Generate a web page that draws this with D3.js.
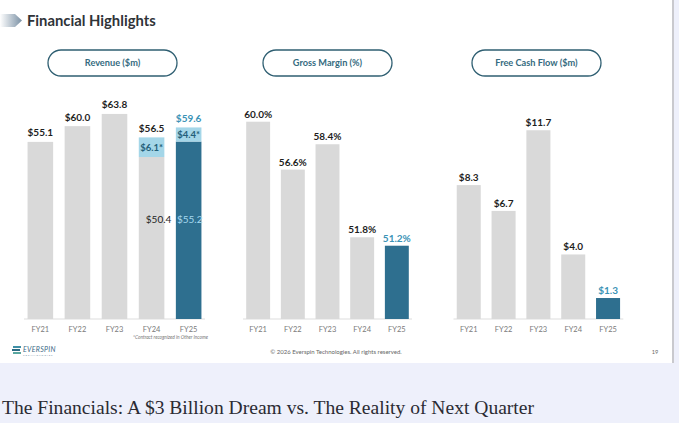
<!DOCTYPE html>
<html>
<head>
<meta charset="utf-8">
<script src="https://cdn.jsdelivr.net/npm/d3@7"></script>
<style>
  html, body { margin: 0; padding: 0; background: #eef0fb; }
  svg { display: block; }
</style>
</head>
<body>
<div class="chart"></div>
<script>
'use strict';

// chart data
var years = ['FY21', 'FY22', 'FY23', 'FY24', 'FY25'];
var panelTitles = ['Revenue ($m)', 'Gross Margin (%)', 'Free Cash Flow ($m)'];
var revenueTotal = [55.1, 60.0, 63.8, 56.5, 59.6];
var revenueCore = [55.1, 60.0, 63.8, 50.4, 55.2];
var revenueContract = [0, 0, 0, 6.1, 4.4];
var grossMargin = [60.0, 56.6, 58.4, 51.8, 51.2];
var freeCashFlow = [8.3, 6.7, 11.7, 4.0, 1.3];

var width = 679,
    height = 423,
    baseY = 319,
    gray = '#d9d9d9',
    dark = '#2e6f8f',
    light = '#a4d6e8',
    teal = '#3b93b6',
    labelFont = 'Lato, "Noto Sans", sans-serif';

var svg = d3.select('.chart').append('svg')
  .attr('width', width)
  .attr('height', height);

// page background + slide
svg.append('rect').attr('width', width).attr('height', height).attr('fill', '#eef0fb');
svg.append('rect').attr('width', 672).attr('height', 363).attr('fill', '#ffffff');
svg.append('rect').attr('x', 672).attr('width', 2).attr('height', 363).attr('fill', '#c9c9ce');

// title with arrow icon
var defs = svg.append('defs');
var grad = defs.append('linearGradient').attr('id', 'arrowGrad');
grad.append('stop').attr('offset', '0%').attr('stop-color', '#ffffff');
grad.append('stop').attr('offset', '100%').attr('stop-color', '#7a90a4');

svg.append('path')
  .attr('d', 'M0,14 L15,14 L22,20.5 L15,27 L0,27 Z')
  .attr('fill', 'url(#arrowGrad)');

svg.append('text')
  .attr('x', 27).attr('y', 26)
  .attr('font-family', labelFont)
  .attr('font-weight', 700)
  .attr('font-size', 14.8)
  .attr('fill', '#2f3338')
  .text('Financial Highlights');

// panel setup
var panels = [
  { range: [22, 207], y: d3.scaleLinear().domain([0, 70]).range([baseY, baseY - 225]), pill: 48 },
  { range: [241, 414], y: d3.scaleLinear().domain([46, 60]).range([baseY, 121.7]), pill: 263 },
  { range: [451.5, 625.3], y: d3.scaleLinear().domain([0, 12]).range([baseY, baseY - 193.6]), pill: 472 }
];

panels.forEach(function (p, i) {
  p.x = d3.scaleBand().domain(years).range(p.range).paddingInner(0.31).paddingOuter(0.15);

  // pill header
  svg.append('rect')
    .attr('x', p.pill).attr('y', 50)
    .attr('width', 129).attr('height', 26)
    .attr('rx', 13)
    .attr('fill', '#fff')
    .attr('stroke', '#2f5f72')
    .attr('stroke-width', 1.3);
  svg.append('text')
    .attr('x', p.pill + 64.5).attr('y', 66)
    .attr('text-anchor', 'middle')
    .attr('font-family', labelFont)
    .attr('font-weight', 700)
    .attr('font-size', 9.2)
    .attr('fill', '#356b80')
    .text(panelTitles[i]);

  // axis
  var axis = svg.append('g')
    .attr('transform', 'translate(0,' + baseY + ')')
    .call(d3.axisBottom(p.x).tickSize(0).tickPadding(7.5));
  axis.select('.domain').attr('stroke', '#d4d4d4').attr('stroke-width', 0.8)
    .attr('d', 'M' + (p.range[0] + 2) + ',0H' + (p.range[1] - 2));
  axis.selectAll('text')
    .attr('font-family', labelFont)
    .attr('font-size', 7.5)
    .attr('fill', '#7a7a7a');
});

function labelText(sel) {
  return sel.attr('text-anchor', 'middle')
    .attr('font-family', labelFont)
    .attr('font-weight', 700)
    .attr('font-size', 10);
}

// revenue
var rev = panels[0];
var revG = svg.append('g');
revG.selectAll('rect.core').data(revenueCore).enter().append('rect')
  .attr('class', 'core')
  .attr('x', function (d, i) { return rev.x(years[i]); })
  .attr('width', rev.x.bandwidth())
  .attr('y', function (d) { return rev.y(d); })
  .attr('height', function (d) { return baseY - rev.y(d); })
  .attr('fill', function (d, i) { return i === 4 ? dark : gray; });

revG.selectAll('rect.contract').data(revenueContract).enter().append('rect')
  .attr('class', 'contract')
  .attr('x', function (d, i) { return rev.x(years[i]); })
  .attr('width', rev.x.bandwidth())
  .attr('y', function (d, i) { return rev.y(revenueCore[i] + d); })
  .attr('height', function (d, i) { return rev.y(revenueCore[i]) - rev.y(revenueCore[i] + d); })
  .attr('fill', light);

revG.selectAll('text.total').data(revenueTotal).enter().append('text')
  .attr('class', 'total')
  .attr('x', function (d, i) { return rev.x(years[i]) + rev.x.bandwidth() / 2; })
  .attr('y', function (d) { return rev.y(d) - 5.5; })
  .call(labelText)
  .attr('fill', function (d, i) { return i === 4 ? teal : '#1e1e1e'; })
  .text(function (d) { return '$' + d.toFixed(1); });

revG.selectAll('text.contract').data(revenueContract.filter(function (d) { return d > 0; })).enter().append('text')
  .attr('class', 'contract')
  .attr('x', function (d, i) { return rev.x(years[i + 3]) + rev.x.bandwidth() / 2; })
  .attr('y', function (d, i) { return rev.y(revenueCore[i + 3] + d / 2) + 3.5; })
  .call(labelText)
  .attr('font-size', 9.5)
  .attr('fill', '#245f7a')
  .text(function (d) { return '$' + d.toFixed(1) + '*'; });

revG.selectAll('text.core').data(revenueCore.slice(3)).enter().append('text')
  .attr('class', 'core')
  .attr('x', function (d, i) { return rev.x(years[i + 3]) + rev.x.bandwidth() + (i === 0 ? 7 : 1); })
  .attr('y', rev.y(31) + 3.5)
  .attr('text-anchor', 'end')
  .attr('font-family', labelFont)
  .attr('font-size', 10)
  .attr('fill', function (d, i) { return i === 1 ? '#a6d9ef' : '#1e1e1e'; })
  .text(function (d) { return '$' + d.toFixed(1); });

svg.append('text')
  .attr('x', 208).attr('y', 339)
  .attr('text-anchor', 'end')
  .attr('font-family', labelFont)
  .attr('font-style', 'italic')
  .attr('font-size', 4.8)
  .attr('fill', '#777')
  .text('*Contract recognized in Other Income');

// gross margin and free cash flow
function simpleBars(p, values, fmt) {
  var g = svg.append('g');
  g.selectAll('rect').data(values).enter().append('rect')
    .attr('x', function (d, i) { return p.x(years[i]); })
    .attr('width', p.x.bandwidth())
    .attr('y', function (d) { return p.y(d); })
    .attr('height', function (d) { return baseY - p.y(d); })
    .attr('fill', function (d, i) { return i === 4 ? dark : gray; });
  g.selectAll('text').data(values).enter().append('text')
    .attr('x', function (d, i) { return p.x(years[i]) + p.x.bandwidth() / 2; })
    .attr('y', function (d) { return p.y(d) - 4; })
    .call(labelText)
    .attr('fill', function (d, i) { return i === 4 ? teal : '#1e1e1e'; })
    .text(fmt);
}
simpleBars(panels[1], grossMargin, function (d) { return d.toFixed(1) + '%'; });
simpleBars(panels[2], freeCashFlow, function (d) { return '$' + d.toFixed(1); });

// footer
var logo = svg.append('g').attr('transform', 'translate(12,346)');
[0, 3, 6].forEach(function (dy, i) {
  logo.append('rect').attr('x', i === 1 ? 0 : 1).attr('y', dy)
    .attr('width', 8).attr('height', 2)
    .attr('fill', ['#3f8fa6', '#2c6b84', '#5aa7a0'][i]);
});
logo.append('text').attr('x', 11).attr('y', 6)
  .attr('font-family', labelFont).attr('font-style', 'italic')
  .attr('font-size', 7).attr('fill', '#3c6a86').attr('letter-spacing', 0.3)
  .text('EVERSPIN');
logo.append('text').attr('x', 11).attr('y', 9.5)
  .attr('font-family', labelFont).attr('font-size', 2.6)
  .attr('fill', '#6f8aa0').attr('letter-spacing', 0.9)
  .text('TECHNOLOGIES');

svg.append('text')
  .attr('x', 336).attr('y', 354)
  .attr('text-anchor', 'middle')
  .attr('font-family', labelFont)
  .attr('font-size', 6)
  .attr('fill', '#666')
  .text('\u00a9 2026 Everspin Technologies. All rights reserved.');
svg.append('text')
  .attr('x', 655).attr('y', 354)
  .attr('text-anchor', 'middle')
  .attr('font-family', labelFont)
  .attr('font-size', 5.6)
  .attr('fill', '#666')
  .text('19');

// caption under the slide
svg.append('text')
  .attr('x', 2).attr('y', 414)
  .attr('font-family', '"Liberation Serif", "DejaVu Serif", serif')
  .attr('font-size', 19.5)
  .attr('fill', '#2b2b33')
  .attr('textLength', 532)
  .attr('lengthAdjust', 'spacingAndGlyphs')
  .text('The Financials: A $3 Billion Dream vs. The Reality of Next Quarter');
</script>
</body>
</html>
